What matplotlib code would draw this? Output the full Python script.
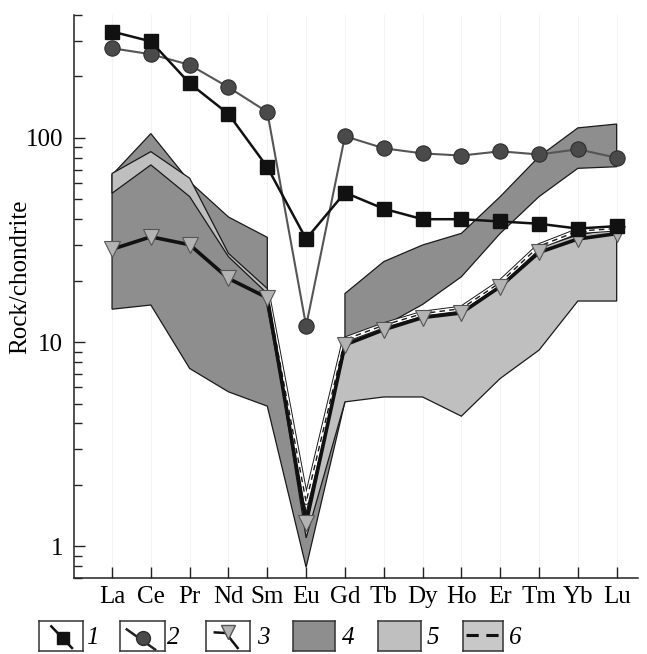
import matplotlib
matplotlib.use("Agg")
import matplotlib.pyplot as plt
import numpy as np

plt.rcParams["font.family"] = ["Liberation Serif", "DejaVu Serif"]

# --- data (chondrite-normalised REE) ---------------------------------------
elements = ["La", "Ce", "Pr", "Nd", "Sm", "Eu", "Gd", "Tb", "Dy", "Ho", "Er", "Tm", "Yb", "Lu"]

sample1 = [332, 297, 185, 131, 72, 32, 54, 45, 40, 40, 39, 38, 36, 37]
sample2 = [275, 257, 228, 177, 134, 12, 102, 89, 84, 82, 86, 83, 88, 80]
sample3 = [28.5, 32.8, 30, 20.5, 16.5, 1.3, 9.7, 11.5, 13.2, 13.9, 18.7, 27.5, 32, 34]
sample6 = [np.nan, np.nan, np.nan, np.nan, 17, 1.65, 10.3, 12.1, 13.8, 14.6, 19.6, 29.5, 35, 36]

# field 4 (dark): outline as (element, value) going along the top then back along the bottom
field4_top_el = ["La", "Ce", "Pr", "Nd", "Sm", "Sm", "Eu", "Gd", "Gd", "Tb", "Dy", "Ho", "Er", "Tm", "Yb", "Lu"]
field4_top = [65.9, 105, 61, 41, 32.6, 17, 1.4, 10, 17.3, 24.8, 29.9, 34.1, 51.6, 81, 112, 117]
field4_bot_el = ["Lu", "Yb", "Tm", "Er", "Ho", "Dy", "Tb", "Gd", "Eu", "Sm", "Nd", "Pr", "Ce", "La"]
field4_bot = [72.3, 71, 51.6, 34.1, 20.9, 15.3, 12, 5.1, 0.79, 4.86, 5.71, 7.43, 15.2, 14.5]

# field 5 (light)
field5_top_el = elements
field5_top = [67, 85.7, 63.5, 27.2, 18.3, 1.45, 10.4, 11.7, 13.4, 14.3, 19.5, 29, 33.5, 36]
field5_bot_el = ["Lu", "Yb", "Tm", "Er", "Ho", "Dy", "Tb", "Gd", "Eu", "Sm", "Nd", "Pr", "Ce", "La"]
field5_bot = [15.9, 15.9, 9.14, 6.64, 4.34, 5.39, 5.39, 5.1, 1.1, 17.3, 26.2, 51.6, 73.8, 53.6]

legend_labels = ["1", "2", "3", "4", "5", "6"]

DARK = "#8e8e8e"
LIGHT = "#bfbfbf"

pos = {e: i for i, e in enumerate(elements)}
x = np.arange(len(elements))

fig = plt.figure(figsize=(6.47, 6.54), dpi=100)
ax = fig.add_axes([74 / 647, 76 / 654, 564 / 647, 563 / 654])


def field(top_el, top, bot_el, bot, color):
    xs = [pos[e] for e in top_el] + [pos[e] for e in bot_el]
    ys = list(top) + list(bot)
    ax.fill(xs, ys, facecolor=color, edgecolor="#1a1a1a", linewidth=0.9, zorder=2)


field(field4_top_el, field4_top, field4_bot_el, field4_bot, DARK)
field(field5_top_el, field5_top, field5_bot_el, field5_bot, LIGHT)

# sample 6: white band with dashed centre
ax.plot(x, sample6, color="#1a1a1a", lw=4.2, zorder=3, solid_capstyle="butt")
ax.plot(x, sample6, color="white", lw=2.8, zorder=3)
ax.plot(x, sample6, color="#1a1a1a", lw=1.0, ls=(0, (4, 3)), zorder=3)

ax.plot(x, sample3, color="#111111", lw=2.6, zorder=4,
        marker="v", ms=11, mfc="#b3b3b3", mec="#555555", mew=0.8)
ax.plot(x, sample2, color="#555555", lw=1.5, zorder=5,
        marker="o", ms=11, mfc="#4a4a4a", mec="#2e2e2e", mew=0.8)
ax.plot(x, sample1, color="#111111", lw=1.8, zorder=6,
        marker="s", ms=10, mfc="#111111", mec="#111111")

ax.set_yscale("log")
ax.set_ylim(0.70, 400)
ax.set_xlim(-0.98, 13.55)
ax.set_xticks(x)
ax.set_xticklabels(elements, fontsize=18)
ax.set_yticks([1, 10, 100])
ax.set_yticklabels(["1", "10", "100"], fontsize=18)
ax.tick_params(axis="both", which="major", direction="in", length=8, width=1, color="#222222")
ax.tick_params(axis="y", which="minor", direction="in", length=6, width=1, color="#222222")
ax.tick_params(axis="x", pad=6)
ax.tick_params(axis="y", pad=8)
ax.set_ylabel("Rock/chondrite", fontsize=18)
ax.yaxis.set_label_coords(-0.075, 0.535)
for side in ["top", "right"]:
    ax.spines[side].set_visible(False)
for side in ["left", "bottom"]:
    ax.spines[side].set_color("#222222")
    ax.spines[side].set_linewidth(1.1)
ax.grid(axis="x", color="#f3f3f3", lw=0.8, zorder=0)
ax.set_axisbelow(True)

# --- legend boxes along the bottom -----------------------------------------
boxes = [(39, 44), (120, 45), (206, 44), (293, 42), (378, 43), (463, 40)]
label_x = [92, 173, 263, 348, 433, 515]
for i, ((bx, bw), lab) in enumerate(zip(boxes, legend_labels)):
    lax = fig.add_axes([bx / 647, 3 / 654, bw / 647, 30 / 654])
    lax.set_xlim(0, 1)
    lax.set_ylim(0, 1)
    lax.set_xticks([])
    lax.set_yticks([])
    for s in lax.spines.values():
        s.set_color("#333333")
        s.set_linewidth(1.1)
    if i == 0:
        lax.plot([0.28, 0.75], [0.82, 0.1], color="#111111", lw=1.8)
        lax.plot([0.55], [0.45], marker="s", ms=9, color="#111111")
    elif i == 1:
        lax.plot([0.15, 0.78], [0.72, 0.05], color="#222222", lw=1.8)
        lax.plot([0.52], [0.42], marker="o", ms=10, mfc="#4a4a4a", mec="#2e2e2e")
    elif i == 2:
        lax.plot([0.2, 0.45, 0.72], [0.62, 0.6, 0.1], color="#111111", lw=1.8)
        lax.plot([0.5], [0.62], marker="v", ms=10, mfc="#b3b3b3", mec="#555555")
    elif i == 3:
        lax.set_facecolor(DARK)
    elif i == 4:
        lax.set_facecolor(LIGHT)
    else:
        lax.set_facecolor("#c8c8c8")
        lax.plot([0.08, 0.92], [0.52, 0.52], color="#111111", lw=2.2, ls=(0, (4, 2.5)))
    fig.text(label_x[i] / 647, 1 - 638 / 654, lab, fontsize=18, style="italic",
             ha="center", va="center")

fig.savefig("out.png", dpi=100)
